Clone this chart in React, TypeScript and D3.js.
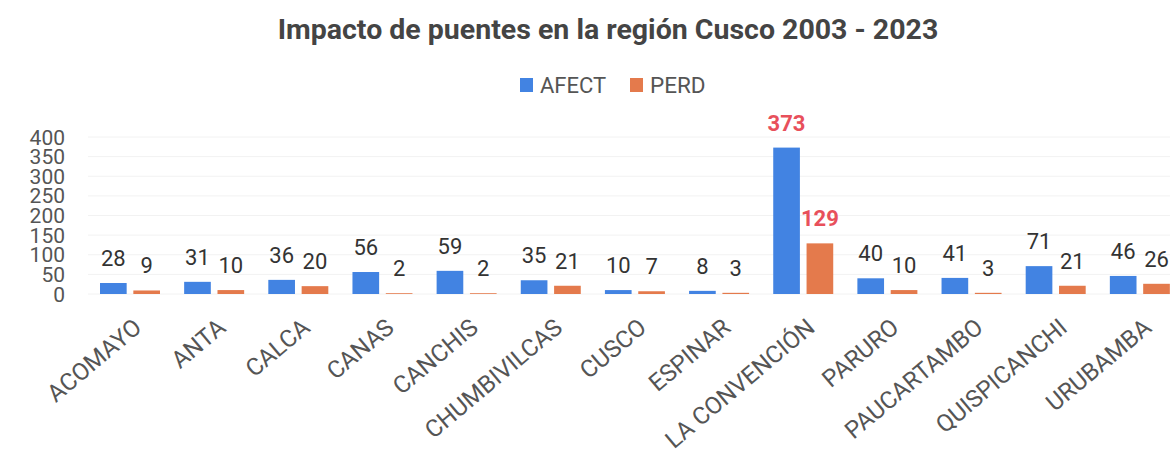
import React from 'react';
import * as d3 from 'd3';

const categories = ['ACOMAYO', 'ANTA', 'CALCA', 'CANAS', 'CANCHIS', 'CHUMBIVILCAS', 'CUSCO', 'ESPINAR', 'LA CONVENCIÓN', 'PARURO', 'PAUCARTAMBO', 'QUISPICANCHI', 'URUBAMBA'];
const afect = [28, 31, 36, 56, 59, 35, 10, 8, 373, 40, 41, 71, 46];
const perd = [9, 10, 20, 2, 2, 21, 7, 3, 129, 10, 3, 21, 26];
const seriesNames = ['AFECT', 'PERD'];
const yTicks = [0, 50, 100, 150, 200, 250, 300, 350, 400];

const width = 1170,
  height = 472;

const colors: Record<string, string> = { AFECT: '#4283e2', PERD: '#e47a4c' };
const font = 'Roboto, "Noto Sans", sans-serif';

export default function App() {
  const x0 = d3.scaleBand<string>().domain(categories).range([88, 1182]);
  const x1 = d3.scaleBand<string>().domain(seriesNames).range([12, 72]).paddingInner(0.2);
  const y = d3.scaleLinear().domain([0, 400]).range([294, 137]);

  const rows = categories.map((c, i) => ({ c, vals: [afect[i], perd[i]] }));
  const maxA = d3.max(afect) as number;
  const maxP = d3.max(perd) as number;

  return (
    <svg width={width} height={height} style={{ position: 'absolute', left: 0, top: 0, background: '#fff' }} fontFamily={font}>
      <text x={608} y={39} textAnchor="middle" fontSize={28.5} fontWeight={700} fill="#444">
        Impacto de puentes en la región Cusco 2003 - 2023
      </text>

      {/* legend */}
      <g transform="translate(520, 78)">
        <rect x={0} y={0} width={13} height={14} fill={colors.AFECT} />
        <text x={20} y={15} fontSize={22} fill="#555">AFECT</text>
        <rect x={110} y={0} width={13} height={14} fill={colors.PERD} />
        <text x={130} y={15} fontSize={22.5} fill="#555">PERD</text>
      </g>

      {/* grid */}
      {yTicks.map(t => (
        <line key={'g' + t} x1={88} x2={1170} y1={y(t)} y2={y(t)} stroke="#f2f2f2" />
      ))}

      {yTicks.map(t => (
        <text key={'t' + t} x={65} y={y(t)} dy="0.36em" textAnchor="end" fontSize={21} fill="#555">
          {t}
        </text>
      ))}

      {rows.map(r => (
        <g key={r.c} transform={`translate(${x0(r.c)},0)`}>
          {r.vals.map((v, j) => {
            const s = seriesNames[j];
            const isMax = (j === 0 && v === maxA) || (j === 1 && v === maxP);
            const bx = x1(s) as number;
            return (
              <g key={s}>
                <rect x={bx} y={y(v)} width={x1.bandwidth()} height={y(0) - y(v)} fill={colors[s]} />
                <text
                  x={bx + x1.bandwidth() / 2}
                  y={y(v) - 17}
                  textAnchor="middle"
                  fontSize={22}
                  fontWeight={isMax ? 700 : 400}
                  fill={isMax ? '#e8505b' : '#333'}
                >
                  {v}
                </text>
              </g>
            );
          })}
        </g>
      ))}

      {categories.map(c => (
        <text
          key={'l' + c}
          transform={`translate(${(x0(c) as number) + x0.bandwidth() / 2 + 13},330) rotate(-40)`}
          textAnchor="end"
          fontSize={24}
          fill="#555"
        >
          {c}
        </text>
      ))}
    </svg>
  );
}
